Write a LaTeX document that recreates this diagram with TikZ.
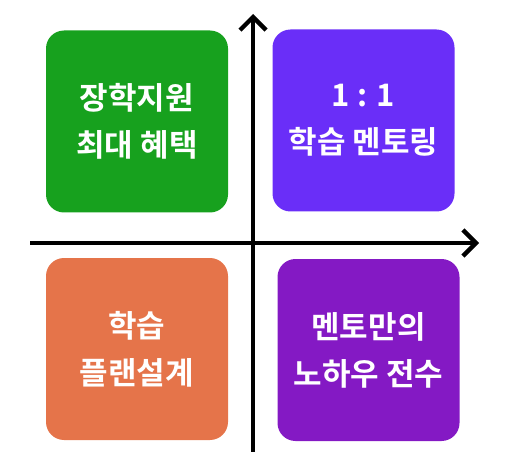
\documentclass[tikz,border=0pt]{standalone}
\usepackage{fontspec}
\newfontfamily\kr{Noto Sans CJK KR Bold}
\usetikzlibrary{arrows.meta}
\definecolor{cgreen}{HTML}{17A11E}
\definecolor{cviolet}{HTML}{6A2EF8}
\definecolor{corange}{HTML}{E5744A}
\definecolor{cpurple}{HTML}{8419C4}
\tikzset{
  quad/.style={fill=#1, rounded corners=18pt, minimum width=182pt, minimum height=182pt,
    inner sep=0pt, text=white, align=center,
    font=\kr\fontsize{31pt}{47pt}\selectfont},
  axis/.style={line width=4.3pt, -{Straight Barb[length=13pt,width=26pt,line width=4.3pt]}}
}
\begin{document}
\begin{tikzpicture}[x=1pt,y=-1pt]
\useasboundingbox (0,0) rectangle (507,452);
\node[quad=cgreen] (g) at (137,121.5) {장학지원\\최대 혜택};
\node[quad=cviolet] (v) at (363.5,120.5) {1 : 1\\학습 멘토링};
\node[quad=corange] (o) at (137,349) {학습\\플랜설계};
\node[quad=cpurple] (p) at (368.5,350) {멘토만의\\노하우 전수};
\coordinate (yb) at (253,452);
\coordinate (yt) at (253,14);
\coordinate (xl) at (30,243);
\coordinate (xr) at (479,243);
\draw[axis] (yb) -- (yt);
\draw[axis] (xl) -- (xr);
\end{tikzpicture}
\end{document}
